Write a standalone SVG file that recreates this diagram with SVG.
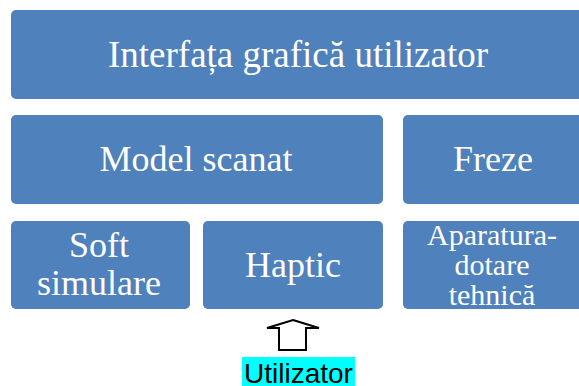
<svg xmlns="http://www.w3.org/2000/svg" width="579" height="386" viewBox="0 0 579 386">
<style>
.box{fill:#4F81BD;}
.t{font-family:"Liberation Serif","Times New Roman",serif;font-size:36px;fill:#FFFFFF;text-anchor:middle;}
.big{font-size:37px;}
.s{font-size:30px;}
.u{font-family:"Liberation Sans",Arial,sans-serif;font-size:28px;fill:#000000;text-anchor:middle;}
</style>
<rect width="579" height="386" fill="#FFFFFF"/>
<g id="interfata">
<rect class="box" x="11" y="10" width="574" height="89" rx="5"/>
<text class="t big" x="298" y="67">Interfața grafică utilizator</text>
</g>
<g id="model">
<rect class="box" x="11" y="115" width="372" height="89" rx="5"/>
<text class="t" x="196" y="171">Model scanat</text>
</g>
<g id="freze">
<rect class="box" x="403" y="115" width="180" height="89" rx="5"/>
<text class="t" x="493" y="171">Freze</text>
</g>
<g id="soft">
<rect class="box" x="11" y="221" width="179" height="88" rx="5"/>
<text class="t" x="99" y="257">Soft</text>
<text class="t" x="99" y="295">simulare</text>
</g>
<g id="haptic">
<rect class="box" x="203" y="221" width="180" height="88" rx="5"/>
<text class="t" x="293" y="277">Haptic</text>
</g>
<g id="aparatura">
<rect class="box" x="403" y="221" width="180" height="88" rx="5"/>
<text class="t s" x="492" y="245">Aparatura-</text>
<text class="t s" x="492" y="275">dotare</text>
<text class="t s" x="492" y="305">tehnică</text>
</g>
<g id="connectors">
<polygon points="293,320 319,328 306,328 306,350 279,350 279,328 267,328" fill="#FFFFFF" stroke="#000000" stroke-width="2" stroke-linejoin="miter"/>
</g>
<g id="utilizator">
<rect x="242" y="357" width="113" height="29" fill="#00FFFF"/>
<text class="u" x="298.5" y="383">Utilizator</text>
</g>
</svg>
